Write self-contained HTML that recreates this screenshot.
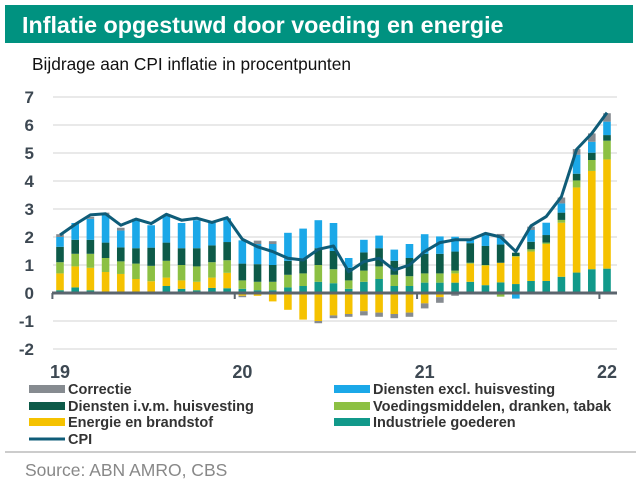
<!DOCTYPE html>
<html><head><meta charset="utf-8"><style>
body{margin:0;background:#fff;font-family:"Liberation Sans",sans-serif;}
#wrap{position:relative;width:643px;height:484px;overflow:hidden;}
</style></head><body>
<div id="wrap">
<svg id="chart" width="643" height="484">
<rect x="5" y="5" width="628" height="38" fill="#009280"/>
<text x="22" y="33" fill="#fff" font-size="23.3" font-weight="bold" font-family="Liberation Sans, sans-serif">Inflatie opgestuwd door voeding en energie</text>
<text x="32" y="70" fill="#111" font-size="17.3" font-family="Liberation Sans, sans-serif">Bijdrage aan CPI inflatie in procentpunten</text>
<g id="grid"></g><g id="bars"></g><g id="axis"></g><g id="line"></g>
<g id="legend" font-family="Liberation Sans, sans-serif" font-size="14.5" font-weight="bold" fill="#333"></g>
<line x1="5" y1="452" x2="636" y2="452" stroke="#bbb" stroke-width="1.5"/>
<text x="25" y="476" fill="#888" font-size="17.5" font-family="Liberation Sans, sans-serif">Source: ABN AMRO, CBS</text>
</svg>
</div>
<script>
const months = 37;
const yearLabels = ["19","20","21","22"];
const yTicks = [7,6,5,4,3,2,1,0,-1,-2];
const industriele = [0.1,0.2,0.1,-0.05,0.03,-0.03,0.02,0.25,0.15,0.1,0.18,0.17,0.15,0.1,0.1,0.2,0.25,0.4,0.35,0.15,0.4,0.5,0.25,0.25,0.37,0.37,0.37,0.4,0.28,0.38,0.32,0.43,0.43,0.58,0.73,0.85,0.87];
const energie = [0.6,0.75,0.8,0.75,0.65,0.5,0.4,0.3,0.3,0.3,0.37,0.55,-0.1,-0.1,-0.3,-0.6,-0.95,-1.0,-0.8,-0.75,-0.65,-0.7,-0.75,-0.7,-0.37,-0.15,0.33,0.65,0.7,0.7,0.98,1.05,1.32,1.93,3.04,3.51,3.9];
const voeding = [0.4,0.45,0.5,0.5,0.45,0.55,0.55,0.6,0.55,0.55,0.55,0.45,0.3,0.3,0.3,0.45,0.45,0.6,0.5,0.3,0.4,0.45,0.4,0.35,0.33,0.33,0.1,0.03,0.02,-0.13,0.02,0.08,0.05,0.1,0.25,0.39,0.67];
const dienstenHuis = [0.55,0.5,0.5,0.55,0.5,0.55,0.65,0.65,0.6,0.65,0.6,0.65,0.6,0.63,0.6,0.5,0.5,0.6,0.65,0.45,0.65,0.65,0.5,0.65,0.7,0.7,0.68,0.7,0.68,0.65,0.12,0.27,0.27,0.26,0.24,0.26,0.2];
const dienstenExcl = [0.35,0.6,0.75,1.0,0.6,1.0,0.8,0.95,0.9,1.0,0.8,0.85,0.83,0.72,0.75,1.0,1.1,1.0,1.0,0.35,0.45,0.45,0.4,0.5,0.7,0.62,0.53,0.12,0.42,0.26,-0.2,0.42,0.44,0.33,0.68,0.39,0.48];
const correctie = [0.1,0.0,0.07,0.07,0.1,0.05,0.0,0.0,0.0,0.0,0.0,0.0,-0.05,0.12,0.1,0.0,0.0,-0.08,-0.1,-0.1,-0.15,-0.15,-0.15,-0.15,-0.18,-0.2,-0.1,0.0,0.0,0.12,0.0,0.12,0.0,0.21,0.2,0.3,0.3];
const cpi = [2.07,2.45,2.79,2.83,2.42,2.64,2.48,2.81,2.6,2.67,2.52,2.69,1.92,1.65,1.48,1.24,1.18,1.56,1.68,0.76,1.12,1.24,0.82,1.0,1.48,1.8,1.9,1.9,2.13,2.0,1.48,2.4,2.73,3.44,5.13,5.7,6.44];
const seriesNames = ["Industriele goederen","Energie en brandstof","Voedingsmiddelen, dranken, tabak","Diensten i.v.m. huisvesting","Diensten excl. huisvesting","Correctie"];
const seriesColors = ["#11998a","#f5c200","#8cc043","#0d5a48","#1ba8e8","#868b90"];
const NS="http://www.w3.org/2000/svg";
function X(i){return 60+i*(607-60)/36;}
function Y(v){return 293-v*28;}
function mk(tag,attrs,parent){const e=document.createElementNS(NS,tag);for(const k in attrs)e.setAttribute(k,attrs[k]);parent.appendChild(e);return e;}
const grid=document.getElementById('grid');
yTicks.forEach(t=>{
  if(t!==0){const g=mk('line',{x1:53,x2:617,y1:Y(t),y2:Y(t),stroke:'#dcdcdc','stroke-width':1.3},grid);
  
  }
  const tx=mk('text',{x:34,y:Y(t)+6,'text-anchor':'end','font-size':17,'font-weight':'bold',fill:'#3d4852','font-family':'Liberation Sans, sans-serif'},grid);
  tx.textContent=t;
  
  
});
const bars=document.getElementById('bars');
const all=[industriele,energie,voeding,dienstenHuis,dienstenExcl,correctie];
for(let i=0;i<months;i++){
  let pos=0,neg=0;
  all.forEach((s,k)=>{
    const v=s[i]; if(!v)return;
    let y0,y1;
    if(v>0){y0=pos;pos+=v;y1=pos;}else{y0=neg;neg+=v;y1=neg;}
    const r=mk('rect',{x:X(i)-3.8,width:7.6,y:Math.min(Y(y0),Y(y1)),height:Math.abs(Y(y1)-Y(y0)),fill:seriesColors[k]},bars);
    
    
  });
}
const axis=document.getElementById('axis');
const zl=mk('line',{x1:52,x2:617,y1:293,y2:293,stroke:'#5b656e','stroke-width':3},axis);


yearLabels.forEach((l,j)=>{
  const tk=mk('line',{x1:X(j*12)-7.6,x2:X(j*12)-7.6,y1:293,y2:299,stroke:'#5b656e','stroke-width':2},axis);
  
  
  const t=mk('text',{x:X(j*12),y:378,'text-anchor':'middle','font-size':18,'font-weight':'bold',fill:'#3d4852','font-family':'Liberation Sans, sans-serif'},axis);
  t.textContent=l;
  
  
});
const line=document.getElementById('line');
const pl=mk('polyline',{points:cpi.map((v,i)=>X(i)+','+Y(v)).join(' '),fill:'none',stroke:'#0f5c78','stroke-width':3,'stroke-linejoin':'round'},line);


const leg=document.getElementById('legend');
const legendItems=[[5,29,389],[4,334,389],[3,29,406],[2,334,406],[1,29,422],[0,334,422],[-1,29,439]];
legendItems.forEach(([k,x,y])=>{
  if(k>=0){const sw=mk('rect',{x:x,y:y-4,width:36,height:8,fill:seriesColors[k]},leg);
    
    }
  else{const sw=mk('line',{x1:x,x2:x+36,y1:y,y2:y,stroke:'#0f5c78','stroke-width':3},leg);
    
    }
  const t=mk('text',{x:x+39,y:y+5},leg);
  t.textContent=k>=0?seriesNames[k]:'CPI';
  
  
});
</script>
</body></html>
